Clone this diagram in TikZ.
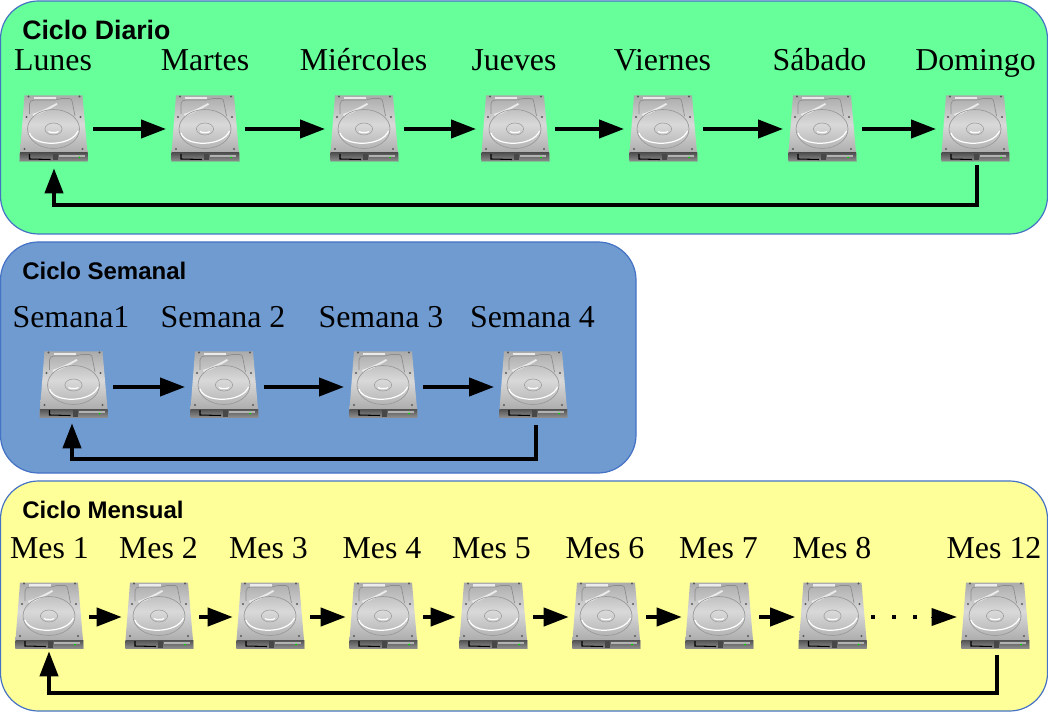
\documentclass[tikz,border=0pt]{standalone}
\usepackage{fontspec}
\setmainfont{Liberation Serif}
\newfontfamily\headfont{Liberation Sans}
\usetikzlibrary{arrows.meta}
\definecolor{bordblue}{HTML}{4472C4}
\definecolor{greenbg}{HTML}{66FF99}
\definecolor{bluebg}{HTML}{6F9BD1}
\definecolor{yellowbg}{HTML}{FFFF99}
\tikzset{
  panel/.style={draw=bordblue,line width=0.9pt,rounded corners=28.5pt},
  heading/.style={anchor=base west,inner sep=0pt,font=\headfont\bfseries\fontsize{18}{20}\selectfont},
  headingbig/.style={heading,font=\headfont\bfseries\fontsize{20}{22}\selectfont},
  day/.style={anchor=base,inner sep=0pt,font=\fontsize{23.9}{26}\selectfont},
  disknode/.style={inner sep=0pt,minimum width=51pt,minimum height=49.5pt},
  arr/.style={line width=3pt,-{Triangle[length=18.75pt,width=13.5pt]},line join=miter},
  link/.style={arr,shorten <=4pt,shorten >=3.5pt},
  linkshort/.style={arr,shorten <=4.5pt,shorten >=2.25pt},
  groove/.style={draw=black!45,line width=.5pt},
  glow/.style={draw=white,line width=.9pt},
  dotmark/.style={fill=black,inner sep=0pt,minimum size=3pt},
}
% #1 name, #2 centre x, #3 top y, #4 connector height
\newcommand{\hdd}[4]{%
  \begin{scope}[shift={(#2,#3)}]
    \fill[black!45,opacity=.5] (-34.5,58) rectangle (34.5,67);
    \shade[top color=black!33,bottom color=black!32,middle color=black!15]
      (-29,0.5) -- (29,0.5) -- (34,58) -- (-33.5,58) -- cycle;
    \fill[white!92!black] (-20,2) rectangle (2,4.5);
    \draw[groove] (-24,19) -- (-24,9) .. controls (-24,6) and (-22,5) .. (-19,5)
      -- (2,5) .. controls (5,5) and (5,3.5) .. (8,3.5) -- (16,3.5)
      .. controls (18,3.5) and (18.5,5) .. (19,8) -- (21.5,21);
    \fill[white!92!black] (-21,19) .. controls (-12,16) and (-4,12) .. (3,8) -- (4,9.5)
      .. controls (-3,14) and (-12,18) .. (-20,21.5) -- cycle;
    \draw[black!40,line width=.5pt] (0,34) ellipse (26 and 19.5);
    \draw[glow] (-24,38) .. controls (-20,52) and (18,52) .. (24.5,36);
    \draw[black!38,line width=.45pt] (0,34) ellipse (8.6 and 6);
    \draw[white,line width=.9pt] (-5,36.5) .. controls (-3,38) and (3,38) .. (5,36.5);
    \foreach \p in {(-25,1.5),(26,1.5),(-27,22),(27,22),(-29,54),(29,54)}
      \fill[black!65] \p circle (1.1);
    \shade[top color=black!68,bottom color=black!45] (-33.5,58) rectangle (34,66);
    \fill[black!30] (5,60) rectangle (31,62);
    \fill[black!72] (-1,59) rectangle (4,65.5);
    \draw[black,line width=.8pt] (-24,59) -- (-24,64) -- (-3,64.5);
    \fill[green!85!black] (26,62.5) circle (1);
  \end{scope}
  \node[disknode] (#1) at (#2,#4) {};
}
\begin{document}
\begin{tikzpicture}[x=0.75pt,y=-0.75pt]
\useasboundingbox (0,0) rectangle (1048,712);
\path[panel,fill=greenbg] (0.5,1) rectangle (1047.5,234);
\path[panel,fill=bluebg] (0.5,242) rectangle (636,473);
\path[panel,fill=yellowbg] (0.5,481) rectangle (1047.5,711);
\node[headingbig] (h1) at (22,39.5) {Ciclo Diario};
\node[heading] (h2) at (22,280) {Ciclo Semanal};
\node[heading] (h3) at (22,518) {Ciclo Mensual};
% daily
\node[day] (t11) at (53,70.5) {Lunes};
\node[day] (t12) at (205,70.5) {Martes};
\node[day] (t13) at (363.5,70.5) {Miércoles};
\node[day] (t14) at (514,70.5) {Jueves};
\node[day] (t15) at (662.5,70.5) {Viernes};
\node[day] (t16) at (819.5,70.5) {Sábado};
\node[day] (t17) at (975.5,70.5) {Domingo};
\hdd{a1}{53.5}{95}{129}
\hdd{a2}{205}{95}{129}
\hdd{a3}{364}{95}{129}
\hdd{a4}{515}{95}{129}
\hdd{a5}{663}{95}{129}
\hdd{a6}{822}{95}{129}
\hdd{a7}{975}{95}{129}
\foreach \s/\e in {a1/a2,a2/a3,a3/a4,a4/a5,a5/a6,a6/a7}
  \draw[link] (\s.east) -- (\e.west);
\coordinate (ar) at (977,205);
\coordinate (al) at (54,205);
\draw[arr,shorten <=2.25pt,shorten >=4.5pt] (a7.south -| ar) -- (ar) -- (al) -- (a1.south -| al);
% weekly
\node[day] (t21) at (71,327.5) {Semana1};
\node[day] (t22) at (223,327.5) {Semana 2};
\node[day] (t23) at (381,327.5) {Semana 3};
\node[day] (t24) at (532.5,327.5) {Semana 4};
\hdd{b1}{73.5}{351}{387}
\hdd{b2}{224}{351}{387}
\hdd{b3}{383}{351}{387}
\hdd{b4}{533}{351}{387}
\foreach \s/\e in {b1/b2,b2/b3,b3/b4}
  \draw[link] (\s.east) -- (\e.west);
\coordinate (br) at (536,459);
\coordinate (bl) at (72,459);
\draw[arr,shorten <=3.75pt,shorten >=2.25pt] (b4.south -| br) -- (br) -- (bl) -- (b1.south -| bl);
% monthly
\node[day] (t31) at (49.5,558) {Mes 1};
\node[day] (t32) at (158.5,558) {Mes 2};
\node[day] (t33) at (268.5,558) {Mes 3};
\node[day] (t34) at (382,558) {Mes 4};
\node[day] (t35) at (491.5,558) {Mes 5};
\node[day] (t36) at (605,558) {Mes 6};
\node[day] (t37) at (718.5,558) {Mes 7};
\node[day] (t38) at (832,558) {Mes 8};
\node[day] (t39) at (994,558) {Mes 12};
\hdd{c1}{49}{582}{617}
\hdd{c2}{159}{582}{617}
\hdd{c3}{270}{582}{617}
\hdd{c4}{383}{582}{617}
\hdd{c5}{493}{582}{617}
\hdd{c6}{606}{582}{617}
\hdd{c7}{719}{582}{617}
\hdd{c8}{832.5}{582}{617}
\hdd{c9}{995}{582}{617}
\foreach \s/\e in {c1/c2,c2/c3,c3/c4,c4/c5,c5/c6,c6/c7,c7/c8}
  \draw[linkshort] (\s.east) -- (\e.west);
\node[dotmark] (p1) at (873,617) {};
\node[dotmark] (p2) at (894,617) {};
\node[dotmark] (p3) at (915,617) {};
\coordinate (cs) at (931,617);
\draw[arr,shorten >=3pt,line width=0pt] (cs) -- (c9.west);
\coordinate (cr) at (997,693);
\coordinate (cl) at (49,693);
\draw[arr,shorten <=3.75pt,shorten >=0.75pt] (c9.south -| cr) -- (cr) -- (cl) -- (c1.south -| cl);
\end{tikzpicture}
\end{document}
